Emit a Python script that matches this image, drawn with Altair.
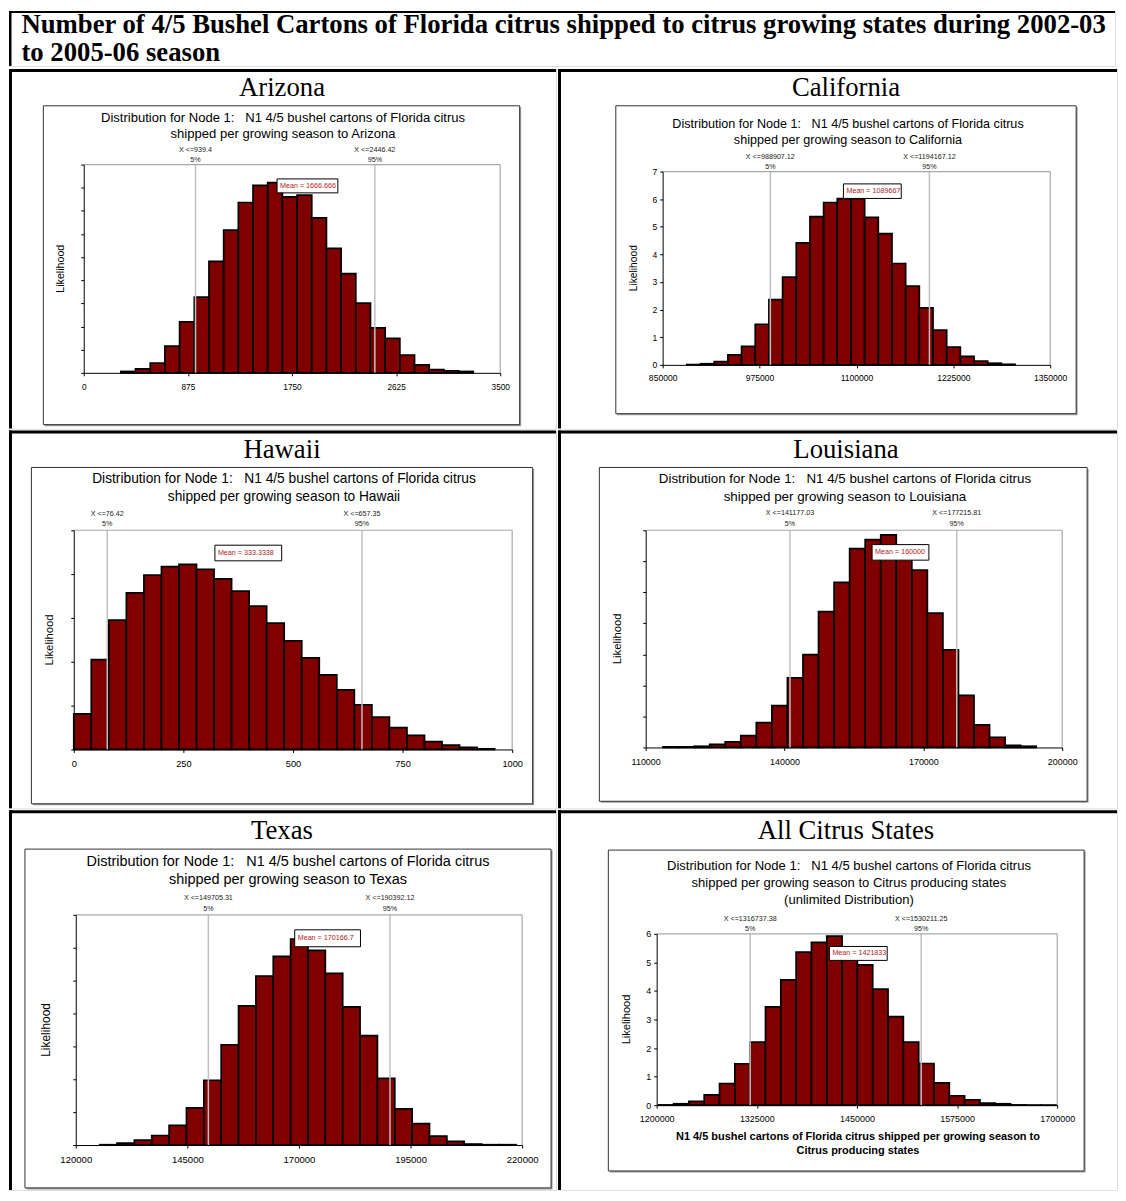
import altair as alt
import pandas as pd

SANS = "Liberation Sans"
SERIF = "Liberation Serif"

# ---------------- text ----------------
HEADER_LINE_1 = "Number of 4/5 Bushel Cartons of Florida citrus shipped to citrus growing states during 2002-03"
HEADER_LINE_2 = "to 2005-06 season"
TITLE_LINE_1 = "Distribution for Node 1:\u00a0\u00a0 N1 4/5 bushel cartons of Florida citrus"
Y_TITLE = "Likelihood"
PCT_TEXT = ["5%", "95%"]

# ---------------- Arizona ----------------
AZ_STATE = "Arizona"
AZ_TITLE = [TITLE_LINE_1, "shipped per growing season to Arizona"]
AZ_HEIGHTS = [0.06, 0.17, 0.42, 1.15, 2.20, 3.27, 4.82, 6.17, 7.36, 8.10, 8.22, 7.60,
              7.68, 6.70, 5.38, 4.29, 3.01, 1.94, 1.49, 0.77, 0.34, 0.14, 0.09, 0.06]
AZ_BIN_START = 312.0
AZ_BIN_WIDTH = 123.4
AZ_PCTL = [939.4, 2446.42]
AZ_PCTL_TEXT = ["X <=939.4", "X <=2446.42"]
AZ_MEAN = 1666.666
AZ_MEAN_TEXT = "Mean = 1666.666"
AZ_XTICKS = [0, 875, 1750, 2625, 3500]
AZ_YMAX = 9

# ---------------- California ----------------
CA_STATE = "California"
CA_TITLE = [TITLE_LINE_1, "shipped per growing season to California"]
CA_HEIGHTS = [0.01, 0.04, 0.12, 0.36, 0.67, 1.47, 2.36, 3.18, 4.42, 5.37, 5.88, 6.02,
              6.02, 5.34, 4.75, 3.67, 2.85, 2.06, 1.26, 0.64, 0.31, 0.14, 0.06, 0.02]
CA_BIN_START = 881250.0
CA_BIN_WIDTH = 17640.0
CA_PCTL = [988907.12, 1194167.12]
CA_PCTL_TEXT = ["X <=988907.12", "X <=1194167.12"]
CA_MEAN = 1089667
CA_MEAN_TEXT = "Mean = 1089667"
CA_XTICKS = [850000, 975000, 1100000, 1225000, 1350000]
CA_YMAX = 7

# ---------------- Hawaii ----------------
HI_STATE = "Hawaii"
HI_TITLE = [TITLE_LINE_1, "shipped per growing season to Hawaii"]
HI_HEIGHTS = [0.81, 2.05, 2.95, 3.57, 3.98, 4.17, 4.22, 4.11, 3.89, 3.61, 3.27, 2.88,
              2.48, 2.09, 1.70, 1.36, 1.02, 0.74, 0.50, 0.32, 0.18, 0.10, 0.05, 0.015]
HI_BIN_START = 0.0
HI_BIN_WIDTH = 40.0
HI_PCTL = [76.42, 657.35]
HI_PCTL_TEXT = ["X <=76.42", "X <=657.35"]
HI_MEAN = 333.3338
HI_MEAN_TEXT = "Mean = 333.3338"
HI_XTICKS = [0, 250, 500, 750, 1000]
HI_YMAX = 5

# ---------------- Louisiana ----------------
LA_STATE = "Louisiana"
LA_TITLE = [TITLE_LINE_1, "shipped per growing season to Louisiana"]
LA_HEIGHTS = [0.02, 0.02, 0.04, 0.10, 0.18, 0.38, 0.80, 1.35, 2.24, 2.99, 4.38, 5.32,
              6.41, 6.70, 6.85, 6.36, 5.72, 4.33, 3.15, 1.68, 0.73, 0.33, 0.07, 0.04]
LA_BIN_START = 113744.0
LA_BIN_WIDTH = 3360.0
LA_PCTL = [141177.03, 177215.81]
LA_PCTL_TEXT = ["X <=141177.03", "X <=177215.81"]
LA_MEAN = 160000
LA_MEAN_TEXT = "Mean = 160000"
LA_XTICKS = [110000, 140000, 170000, 200000]
LA_YMAX = 7

# ---------------- Texas ----------------
TX_STATE = "Texas"
TX_TITLE = [TITLE_LINE_1, "shipped per growing season to Texas"]
TX_HEIGHTS = [0.01, 0.06, 0.15, 0.29, 0.60, 1.13, 1.97, 3.05, 4.23, 5.14, 5.74, 6.26,
              5.92, 5.22, 4.20, 3.33, 2.03, 1.10, 0.65, 0.27, 0.11, 0.03, 0.01, 0.01]
TX_BIN_START = 125356.0
TX_BIN_WIDTH = 3889.0
TX_PCTL = [149705.31, 190392.12]
TX_PCTL_TEXT = ["X <=149705.31", "X <=190392.12"]
TX_MEAN = 170166.7
TX_MEAN_TEXT = "Mean = 170166.7"
TX_XTICKS = [120000, 145000, 170000, 195000, 220000]
TX_YMAX = 7

# ---------------- All citrus states ----------------
ALL_STATE = "All Citrus States"
ALL_TITLE = [TITLE_LINE_1, "shipped per growing season to Citrus producing states",
             "(unlimited Distribution)"]
ALL_HEIGHTS = [0.01, 0.05, 0.13, 0.36, 0.76, 1.45, 2.21, 3.44, 4.39, 5.36, 5.70, 5.92,
               5.10, 4.91, 4.06, 3.10, 2.21, 1.46, 0.78, 0.33, 0.19, 0.07, 0.05, 0.01,
               0.005, 0.005]
ALL_BIN_START = 1201987.0
ALL_BIN_WIDTH = 19122.0
ALL_PCTL = [1316737.38, 1530211.25]
ALL_PCTL_TEXT = ["X <=1316737.38", "X <=1530211.25"]
ALL_MEAN = 1421833
ALL_MEAN_TEXT = "Mean = 1421833"
ALL_XTICKS = [1200000, 1325000, 1450000, 1575000, 1700000]
ALL_YMAX = 6
ALL_XTITLE = ["N1 4/5 bushel cartons of Florida citrus shipped per growing season to",
              "Citrus producing states"]

# ---------------- layout (page pixel coordinates) ----------------
TOP = 12            # page y where the drawing starts
HEADER_BOTTOM = 67  # page y of the header's lower border
TABLE_RIGHT = 1118

LAYOUT = {
    "AZ": dict(plot=(83, 163, 501, 372), cell=(8, 67, 557, 428), frame=(42.5, 104, 520.5, 424),
               title_cx=283, title_y=[116, 132], title_fs=13.1, pct_y=(148, 158),
               state=(282, 94.5), lk_x=60, lk_fs=10.7, ax_fs=8.3, box_w=61, box_y=(14.4, 28.4),
               ylabels=False, lpad=7),
    "CA": dict(plot=(662, 170, 1051, 364), cell=(557, 67, TABLE_RIGHT, 428), frame=(615, 104, 1077, 413),
               title_cx=848, title_y=[122, 138], title_fs=12.65, pct_y=(155, 165),
               state=(846, 94.5), lk_x=633, lk_fs=10.3, ax_fs=8.6, box_w=58, box_y=(12.4, 27),
               ylabels=True, lpad=6),
    "HI": dict(plot=(73, 528, 513, 748), cell=(8, 428, 557, 807), frame=(30.5, 465, 533.5, 802.5),
               title_cx=284, title_y=[477, 495], title_fs=13.8, pct_y=(512, 522),
               state=(282, 455.5), lk_x=49, lk_fs=11.4, ax_fs=9.3, box_w=67, box_y=(15, 30.7),
               ylabels=False, lpad=7),
    "LA": dict(plot=(645, 528, 1063, 746), cell=(557, 428, TABLE_RIGHT, 807), frame=(598.5, 465, 1088, 800),
               title_cx=845, title_y=[477, 495], title_fs=13.4, pct_y=(511, 522),
               state=(846, 455.5), lk_x=617, lk_fs=11.3, ax_fs=9.0, box_w=57, box_y=(14.4, 30),
               ylabels=False, lpad=7),
    "TX": dict(plot=(75, 912, 523, 1143), cell=(8, 807, 557, 1188), frame=(24, 846, 552, 1186),
               title_cx=288, title_y=[859, 877], title_fs=14.5, pct_y=(895, 906),
               state=(282, 835.5), lk_x=45, lk_fs=12, ax_fs=9.6, box_w=66, box_y=(15, 32),
               ylabels=False, lpad=7),
    "ALL": dict(plot=(656, 931, 1058, 1103), cell=(557, 807, TABLE_RIGHT, 1188), frame=(607.5, 847, 1085, 1169),
                title_cx=849, title_y=[863, 880, 897], title_fs=13.1, pct_y=(916, 926),
                state=(846, 835.5), lk_x=626, lk_fs=11.1, ax_fs=9.0, box_w=58, box_y=(12.7, 26.7),
                ylabels=True, lpad=6, xtitle_cx=858, xtitle_y=[1135, 1149], xtitle_fs=11.0),
}

BAR_FILL = "#800000"
GRID_GRAY = "#c0c0c0"
MEAN_RED = "#b22222"
STATE_FS = 26.8
HEADER_FS = 26.8

ONE = pd.DataFrame({"k": [0]})


def px_rect(x0, y0, x1, y1, **kw):
    return alt.Chart(ONE).mark_rect(**kw).encode(
        x=alt.value(x0), x2=alt.value(x1), y=alt.value(y0), y2=alt.value(y1))


def px_rule(x0, y0, x1, y1, **kw):
    return alt.Chart(ONE).mark_rule(**kw).encode(
        x=alt.value(x0), x2=alt.value(x1), y=alt.value(y0), y2=alt.value(y1))


def px_text(x, y, text, **kw):
    return alt.Chart(ONE).mark_text(text=text, **kw).encode(x=alt.value(x), y=alt.value(y))


def panel(state, title, heights, bin_start, bin_width, pctl, pctl_text, mean, mean_text,
          xticks, ymax, L, xtitle=None):
    cx0, cy0, cx1, cy1 = L["cell"]
    CW, CH = cx1 - cx0, cy1 - cy0

    def rx(X):
        return X - cx0

    def ry(Y):
        return Y - cy0

    px0, py0, px1, py1 = [rx(L["plot"][0]), ry(L["plot"][1]), rx(L["plot"][2]), ry(L["plot"][3])]
    fx0, fy0, fx1, fy1 = L["frame"]
    xlo, xhi = xticks[0], xticks[-1]

    layers = [
        px_rect(0, 0, CW, CH, fill="white"),
        px_rect(0, 0, CW, 3, fill="black"),
        px_rect(0, 0, 3, CH, fill="black"),
        px_text(rx(L["state"][0]), ry(L["state"][1]), state, font=SERIF, fontSize=STATE_FS,
                align="center", baseline="alphabetic", color="black"),
        px_rect(rx(fx0) + 1.5, ry(fy0) + 1.5, rx(fx1) + 1.5, ry(fy1) + 1.5, fill="#9a9a9a"),
        px_rect(rx(fx0), ry(fy0), rx(fx1), ry(fy1), fill="white", stroke="#333333", strokeWidth=1),
    ]
    for line, y in zip(title, L["title_y"]):
        layers.append(px_text(rx(L["title_cx"]), ry(y), line, font=SANS, fontSize=L["title_fs"],
                              align="center", baseline="middle", color="black"))
    layers.append(px_text(rx(L["lk_x"]), (py0 + py1) / 2, Y_TITLE, font=SANS, fontSize=L["lk_fs"],
                          angle=270, align="center", baseline="middle", color="black"))
    if xtitle:
        for line, y in zip(xtitle, L["xtitle_y"]):
            layers.append(px_text(rx(L["xtitle_cx"]), ry(y), line, font=SANS, fontSize=L["xtitle_fs"],
                                  fontWeight="bold", align="center", baseline="middle", color="black"))

    xs = alt.Scale(domain=[xlo, xhi], range=[px0, px1], nice=False, zero=False)
    ys = alt.Scale(domain=[0, ymax], range=[py1, py0], nice=False, zero=True)
    xaxis = alt.Axis(values=xticks, format="d", labelFont=SANS, labelFontSize=L["ax_fs"],
                     labelColor="black", domainColor="black", tickColor="black", domainWidth=1,
                     tickWidth=1, tickSize=3, labelPadding=L["lpad"], grid=False, title=None,
                     labelFlush=False, labelOverlap=False, labelBound=False, zindex=1,
                     offset=py1 - CH)
    yaxis = alt.Axis(values=list(range(0, ymax + 1)), format="d", labels=L["ylabels"],
                     labelFont=SANS, labelFontSize=L["ax_fs"], labelColor="black",
                     domainColor="black", tickColor="black", domainWidth=1, tickWidth=1,
                     tickSize=3, labelPadding=3, grid=False, title=None, labelFlush=False,
                     labelOverlap=False, labelBound=False, zindex=1, offset=-px0)

    n = len(heights)
    bars_df = pd.DataFrame({
        "x0": [bin_start + i * bin_width for i in range(n)],
        "x1": [bin_start + (i + 1) * bin_width for i in range(n)],
        "h": heights,
    })
    layers.append(alt.Chart(bars_df).mark_rect(fill=BAR_FILL, stroke="black", strokeWidth=1.7).encode(
        x=alt.X("x0:Q", scale=xs, axis=xaxis),
        x2="x1:Q",
        y=alt.Y("h:Q", scale=ys, axis=yaxis),
        y2=alt.datum(0),
    ))

    pdf = pd.DataFrame({"x0": pctl, "lab": pctl_text, "pct": PCT_TEXT})
    layers.append(alt.Chart(pdf).mark_rule(color=GRID_GRAY, strokeWidth=1.5).encode(
        x=alt.X("x0:Q", scale=xs, axis=xaxis), y=alt.value(py0), y2=alt.value(py1)))
    layers.append(px_rule(px0, py0, px1, py0, color="#a8a8a8", strokeWidth=1.2))
    layers.append(px_rule(px1, py0, px1, py1, color="#a8a8a8", strokeWidth=1.2))
    layers.append(alt.Chart(pdf).mark_text(font=SANS, fontSize=7.2, baseline="middle", color="#222222").encode(
        x=alt.X("x0:Q", scale=xs, axis=xaxis), y=alt.value(ry(L["pct_y"][0])), text="lab:N"))
    layers.append(alt.Chart(pdf).mark_text(font=SANS, fontSize=7.2, baseline="middle", color="#222222").encode(
        x=alt.X("x0:Q", scale=xs, axis=xaxis), y=alt.value(ry(L["pct_y"][1])), text="pct:N"))

    mdf = pd.DataFrame({"x0": [mean], "lab": [mean_text]})
    layers.append(alt.Chart(mdf).mark_rect(fill="white", stroke="black", strokeWidth=1,
                                           xOffset=-5, x2Offset=L["box_w"] - 5).encode(
        x=alt.X("x0:Q", scale=xs, axis=xaxis), x2="x0:Q",
        y=alt.value(py0 + L["box_y"][0]), y2=alt.value(py0 + L["box_y"][1])))
    layers.append(alt.Chart(mdf).mark_text(font=SANS, fontSize=7.2, align="left", baseline="middle",
                                           dx=-2, color=MEAN_RED).encode(
        x=alt.X("x0:Q", scale=xs, axis=xaxis),
        y=alt.value(py0 + (L["box_y"][0] + L["box_y"][1]) / 2), text="lab:N"))

    return alt.layer(*layers).properties(width=CW, height=CH)


# ---------------- header ----------------
HW = TABLE_RIGHT - 8
HH = HEADER_BOTTOM - TOP
header = alt.layer(
    px_rect(0, 0, HW, HH, fill="white"),
    px_rect(0, 0, HW, 2, fill="black"),
    px_rect(0, 0, 2.5, HH, fill="black"),
    px_text(20.5 - 8, 33.5 - TOP, HEADER_LINE_1, font=SERIF, fontSize=HEADER_FS, fontWeight="bold",
            align="left", baseline="alphabetic", color="black"),
    px_text(20.5 - 8, 62.5 - TOP, HEADER_LINE_2, font=SERIF, fontSize=HEADER_FS, fontWeight="bold",
            align="left", baseline="alphabetic", color="black"),
).properties(width=HW, height=HH)

az = panel(AZ_STATE, AZ_TITLE, AZ_HEIGHTS, AZ_BIN_START, AZ_BIN_WIDTH, AZ_PCTL, AZ_PCTL_TEXT,
           AZ_MEAN, AZ_MEAN_TEXT, AZ_XTICKS, AZ_YMAX, LAYOUT["AZ"])
ca = panel(CA_STATE, CA_TITLE, CA_HEIGHTS, CA_BIN_START, CA_BIN_WIDTH, CA_PCTL, CA_PCTL_TEXT,
           CA_MEAN, CA_MEAN_TEXT, CA_XTICKS, CA_YMAX, LAYOUT["CA"])
hi = panel(HI_STATE, HI_TITLE, HI_HEIGHTS, HI_BIN_START, HI_BIN_WIDTH, HI_PCTL, HI_PCTL_TEXT,
           HI_MEAN, HI_MEAN_TEXT, HI_XTICKS, HI_YMAX, LAYOUT["HI"])
la = panel(LA_STATE, LA_TITLE, LA_HEIGHTS, LA_BIN_START, LA_BIN_WIDTH, LA_PCTL, LA_PCTL_TEXT,
           LA_MEAN, LA_MEAN_TEXT, LA_XTICKS, LA_YMAX, LAYOUT["LA"])
tx = panel(TX_STATE, TX_TITLE, TX_HEIGHTS, TX_BIN_START, TX_BIN_WIDTH, TX_PCTL, TX_PCTL_TEXT,
           TX_MEAN, TX_MEAN_TEXT, TX_XTICKS, TX_YMAX, LAYOUT["TX"])
al = panel(ALL_STATE, ALL_TITLE, ALL_HEIGHTS, ALL_BIN_START, ALL_BIN_WIDTH, ALL_PCTL, ALL_PCTL_TEXT,
           ALL_MEAN, ALL_MEAN_TEXT, ALL_XTICKS, ALL_YMAX, LAYOUT["ALL"], xtitle=ALL_XTITLE)

chart = alt.vconcat(
    header,
    alt.hconcat(az, ca, spacing=0),
    alt.hconcat(hi, la, spacing=0),
    alt.hconcat(tx, al, spacing=0),
    spacing=0,
).properties(padding=0).configure_view(strokeWidth=0, stroke="transparent").configure(background="white")

chart.save("out.html", embed_options={"renderer": "svg", "actions": False})
